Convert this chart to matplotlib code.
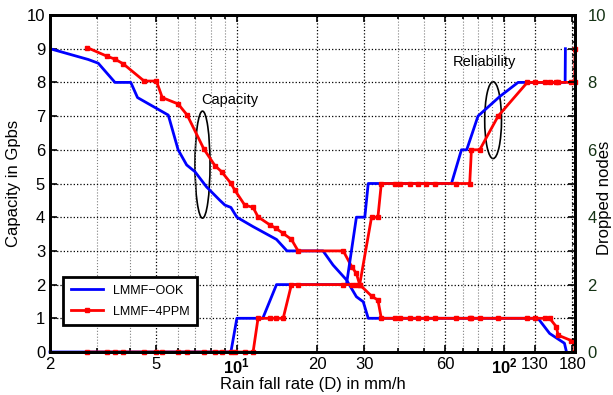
import numpy as np
import matplotlib
matplotlib.use("Agg")
import matplotlib.pyplot as plt
from matplotlib.patches import Ellipse
from matplotlib.ticker import FixedLocator, NullFormatter

plt.rcParams['font.family'] = ['Liberation Sans', 'DejaVu Sans']
plt.rcParams['mathtext.fontset'] = 'custom'
plt.rcParams['mathtext.rm'] = 'Liberation Sans'
plt.rcParams['mathtext.bf'] = 'Liberation Sans:bold'

# ---------- data ----------
# LMMF-OOK (blue), no markers
x_ook_cap = [2, 2.78, 3.03, 3.5, 4.01, 4.25, 5.54, 6.03, 6.49, 6.97, 7.7, 8.64, 9.02, 9.5,
             10.0, 11.5, 14.07, 15.4, 21.0, 22.9, 25.7, 28.0, 29.7, 31.0, 133.8, 147.9, 168, 171]
y_ook_cap = [9.0, 8.68, 8.57, 8.0, 8.0, 7.55, 7.03, 6.0, 5.55, 5.35, 4.9, 4.5, 4.36, 4.29,
             4.0, 3.72, 3.34, 3.0, 3.0, 2.58, 2.14, 1.64, 1.49, 1.0, 1.0, 0.55, 0.26, 0.0]
x_ook_drop = [2, 9.5, 10.0, 12.5, 14.07, 25.7, 28.0, 30.1, 31.0, 63.5, 69.2, 72.4, 79.8,
              96.2, 112.7, 169.0, 169.4]
y_ook_drop = [0, 0, 1, 1, 2, 2, 4, 4, 5, 5, 6, 6, 7, 7.58, 8, 8, 9]

# LMMF-4PPM (red), square markers at every simulated rain rate
x_4ppm = [2.76, 3.26, 3.5, 3.76, 4.5, 5.0, 5.26, 6.03, 6.52, 7.53, 8.28, 8.77, 9.47, 9.83,
          10.7, 11.5, 12.0, 13.3, 14.0, 14.9, 16.0, 16.95, 25.0, 26.9, 28.0, 28.8, 31.9,
          33.7, 34.7, 39.0, 40.7, 44.3, 47.6, 51.2, 55.0, 66.3, 74.3, 75.4, 81.0, 94.9,
          122.0, 130.1, 141.7, 147.9, 156.7, 159.0, 178.0, 183.5, 184.0]
y_4ppm_cap = [9.03, 8.78, 8.69, 8.55, 8.04, 8.04, 7.55, 7.36, 7.03, 6.02, 5.53, 5.35, 5.02, 4.8,
              4.36, 4.29, 4.01, 3.77, 3.67, 3.52, 3.34, 3.0, 3.0, 2.53, 2.33, 2.0, 1.66,
              1.54, 1.0, 1.0, 1.0, 1.0, 1.0, 1.0, 1.0, 1.0, 1.0, 1.0, 1.0, 1.0,
              1.0, 1.0, 1.0, 1.0, 0.75, 0.5, 0.34, 0.26, 0.0]
y_4ppm_drop = [0, 0, 0, 0, 0, 0, 0, 0, 0, 0, 0, 0, 0, 0,
               0, 0, 1, 1, 1, 1, 2, 2, 2, 2, 2, 2, 4,
               4, 5, 5, 5, 5, 5, 5, 5, 5, 5, 6, 6, 7,
               8, 8, 8, 8, 8, 8, 8, 8, 9]

xticks = [2, 5, 10, 20, 30, 60, 100, 130, 180]
xticklabels = ['2', '5', r'$\mathbf{10^1}$', '20', '30', '60', r'$\mathbf{10^2}$', '130', '180']

# ---------- figure ----------
fig = plt.figure(figsize=(6.13, 3.95), dpi=100)
ax = fig.add_axes([50 / 613, 1 - 352 / 395, 525 / 613, 337 / 395])
ax2 = ax.twinx()

ax.plot(x_ook_cap, y_ook_cap, color='blue', lw=2, label='LMMF\u2212OOK')
ax.plot(x_4ppm, y_4ppm_cap, color='red', lw=2, marker='s', ms=3.5, label='LMMF\u22124PPM')
ax.plot(x_ook_drop, y_ook_drop, color='blue', lw=2, clip_on=False)
ax.plot(x_4ppm, y_4ppm_drop, color='red', lw=2, marker='s', ms=3.5, clip_on=False)

ax.set_xscale('log')
ax.set_xlim(2, 184)
ax.set_ylim(0, 10)
ax2.set_ylim(0, 10)

ax.xaxis.set_major_locator(FixedLocator(xticks))
ax.set_xticklabels(xticklabels)
minor = [3, 4, 6, 7, 8, 9, 40, 50, 70, 80, 90]
ax.xaxis.set_minor_locator(FixedLocator(minor))
ax.xaxis.set_minor_formatter(NullFormatter())
ax.set_yticks(range(0, 11))
ax2.set_yticks(np.arange(0, 10.01, 0.2), minor=True)
ax2.set_yticks(range(0, 11), minor=False)
ax2.set_yticklabels(['0', '', '2', '', '4', '', '6', '', '8', '', '10'])

ax.grid(True, which='major', ls=':', color='black', lw=0.9)
ax.grid(True, which='minor', axis='x', ls=':', color='gray', lw=0.8)

for a in (ax, ax2):
    for s in a.spines.values():
        s.set_linewidth(2)
ax.tick_params(which='both', direction='in', top=True, labelsize=12, width=1.2)
ax.tick_params(which='major', length=5)
ax.tick_params(which='minor', length=3)
ax2.tick_params(which='both', direction='in', labelsize=12, labelcolor='#143214', width=1.2)
ax2.tick_params(which='major', length=5, pad=9)
ax2.tick_params(which='minor', length=2)

ax.set_xlabel('Rain fall rate (D) in mm/h', fontsize=12, labelpad=0)
ax.set_ylabel('Capacity in Gpbs', fontsize=12)
ax2.set_ylabel('Dropped nodes', fontsize=12)
ax2.yaxis.set_label_coords(597 / 613, 0.5, transform=fig.transFigure)

# annotations
ax.add_patch(Ellipse((0.2905, 0.556), 0.0286, 0.3175, transform=ax.transAxes,
                     fill=False, ec='black', lw=1.2))
ax.add_patch(Ellipse((0.844, 0.688), 0.032, 0.228, transform=ax.transAxes,
                     fill=False, ec='black', lw=1.2))
ax.text(9.4, 7.48, 'Capacity', fontsize=10.5, ha='center', va='center')
ax.text(84.6, 8.61, 'Reliability', fontsize=10.5, ha='center', va='center')

leg = ax.legend(loc='lower left', bbox_to_anchor=(0.025, 0.08), borderaxespad=0,
                fontsize=9, fancybox=False, framealpha=1, edgecolor='black',
                handlelength=2.6, borderpad=0.6, labelspacing=0.7)
leg.get_frame().set_linewidth(2)

fig.savefig('out.png', dpi=100)
